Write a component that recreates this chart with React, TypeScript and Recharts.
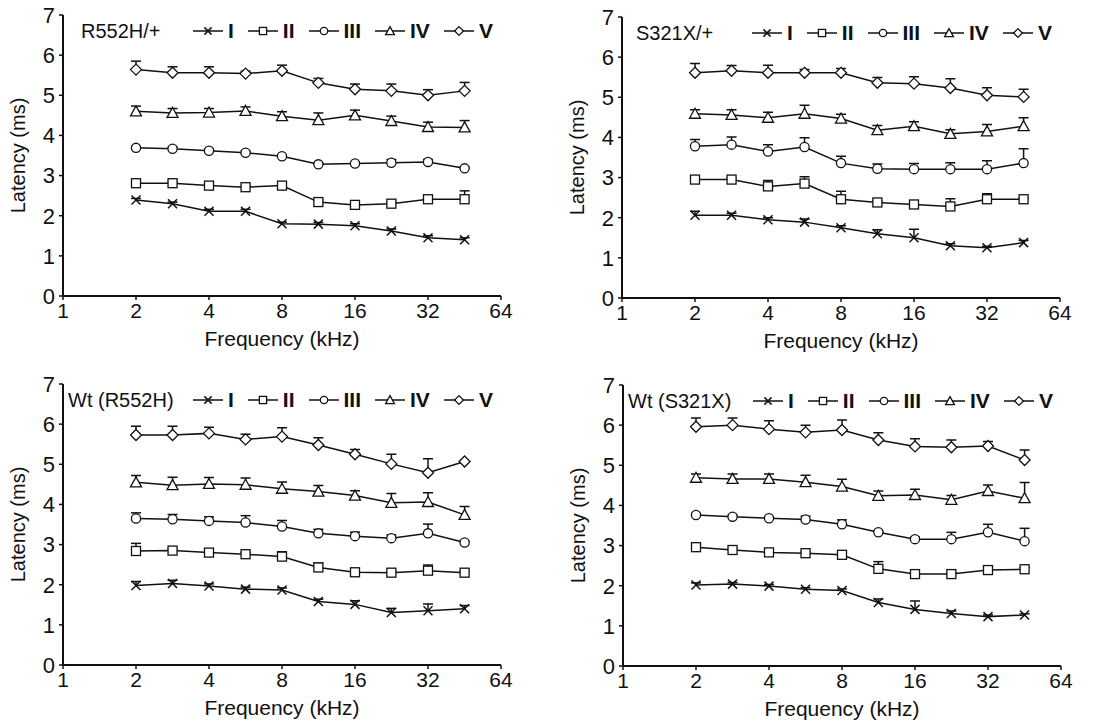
import React from "react";
import { LineChart, Line, XAxis, YAxis, ErrorBar, Legend } from "recharts";

const FONT = '"Liberation Sans", Arial, sans-serif';

// half-octave test frequencies (kHz)
const FREQS = [2, 2.83, 4, 5.66, 8, 11.3, 16, 22.6, 32, 45.3];
const X_TICKS = [1, 2, 4, 8, 16, 32, 64];
const Y_TICKS = [0, 1, 2, 3, 4, 5, 6, 7];
const WAVES = ["I", "II", "III", "IV", "V"];

// R552H/+
const R552H_I = [2.39, 2.3, 2.11, 2.11, 1.8, 1.79, 1.75, 1.62, 1.45, 1.4];
const R552H_II = [2.81, 2.81, 2.75, 2.71, 2.75, 2.34, 2.27, 2.3, 2.41, 2.41];
const R552H_III = [3.69, 3.67, 3.62, 3.57, 3.48, 3.28, 3.3, 3.32, 3.34, 3.18];
const R552H_IV = [4.6, 4.56, 4.57, 4.61, 4.48, 4.38, 4.5, 4.36, 4.21, 4.2];
const R552H_V = [5.64, 5.56, 5.56, 5.54, 5.61, 5.31, 5.15, 5.11, 5.0, 5.11];
const R552H_I_ERR = [0.04, 0.04, 0.05, 0.05, 0.04, 0.04, 0.05, 0.05, 0.05, 0.05];
const R552H_II_ERR = [0.04, 0.04, 0.04, 0.04, 0.04, 0.06, 0.04, 0.04, 0.04, 0.21];
const R552H_III_ERR = [0.04, 0.04, 0.04, 0.04, 0.04, 0.04, 0.04, 0.08, 0.06, 0.04];
const R552H_IV_ERR = [0.13, 0.11, 0.1, 0.1, 0.11, 0.18, 0.13, 0.12, 0.12, 0.17];
const R552H_V_ERR = [0.21, 0.15, 0.15, 0.06, 0.14, 0.11, 0.13, 0.17, 0.14, 0.21];

// S321X/+
const S321X_I = [2.06, 2.06, 1.95, 1.89, 1.75, 1.6, 1.5, 1.3, 1.25, 1.38];
const S321X_II = [2.95, 2.95, 2.78, 2.85, 2.46, 2.38, 2.33, 2.28, 2.46, 2.46];
const S321X_III = [3.78, 3.82, 3.65, 3.76, 3.36, 3.22, 3.21, 3.21, 3.21, 3.36];
const S321X_IV = [4.59, 4.56, 4.49, 4.59, 4.47, 4.18, 4.28, 4.09, 4.15, 4.28];
const S321X_V = [5.61, 5.66, 5.61, 5.61, 5.61, 5.36, 5.34, 5.23, 5.05, 5.01];
const S321X_I_ERR = [0.1, 0.05, 0.05, 0.08, 0.05, 0.1, 0.21, 0.05, 0.04, 0.05];
const S321X_II_ERR = [0.04, 0.04, 0.15, 0.17, 0.2, 0.04, 0.04, 0.19, 0.14, 0.04];
const S321X_III_ERR = [0.17, 0.19, 0.17, 0.23, 0.17, 0.12, 0.14, 0.16, 0.21, 0.36];
const S321X_IV_ERR = [0.1, 0.13, 0.14, 0.21, 0.11, 0.12, 0.11, 0.1, 0.17, 0.21];
const S321X_V_ERR = [0.23, 0.13, 0.19, 0.08, 0.11, 0.13, 0.17, 0.23, 0.19, 0.19];

// Wt (R552H)
const WT_R_I = [1.98, 2.03, 1.97, 1.89, 1.87, 1.58, 1.51, 1.31, 1.35, 1.4];
const WT_R_II = [2.84, 2.85, 2.8, 2.76, 2.7, 2.43, 2.31, 2.3, 2.35, 2.3];
const WT_R_III = [3.65, 3.63, 3.59, 3.55, 3.45, 3.28, 3.21, 3.16, 3.28, 3.05];
const WT_R_IV = [4.55, 4.48, 4.51, 4.49, 4.39, 4.32, 4.22, 4.04, 4.06, 3.74];
const WT_R_V = [5.73, 5.73, 5.77, 5.62, 5.69, 5.48, 5.25, 5.01, 4.79, 5.07];
const WT_R_I_ERR = [0.1, 0.08, 0.05, 0.05, 0.05, 0.06, 0.09, 0.1, 0.17, 0.08];
const WT_R_II_ERR = [0.19, 0.04, 0.04, 0.04, 0.12, 0.11, 0.04, 0.04, 0.14, 0.04];
const WT_R_III_ERR = [0.14, 0.12, 0.1, 0.17, 0.15, 0.1, 0.1, 0.08, 0.23, 0.03];
const WT_R_IV_ERR = [0.17, 0.2, 0.16, 0.17, 0.17, 0.15, 0.12, 0.23, 0.23, 0.21];
const WT_R_V_ERR = [0.22, 0.22, 0.15, 0.13, 0.22, 0.18, 0.12, 0.24, 0.35, 0.02];

// Wt (S321X)
const WT_S_I = [2.02, 2.04, 1.99, 1.91, 1.88, 1.58, 1.41, 1.31, 1.23, 1.27];
const WT_S_II = [2.96, 2.89, 2.83, 2.81, 2.77, 2.42, 2.29, 2.29, 2.39, 2.41];
const WT_S_III = [3.76, 3.72, 3.68, 3.65, 3.53, 3.33, 3.16, 3.16, 3.33, 3.11];
const WT_S_IV = [4.69, 4.66, 4.66, 4.58, 4.47, 4.24, 4.26, 4.14, 4.36, 4.18];
const WT_S_V = [5.96, 6.0, 5.9, 5.82, 5.88, 5.63, 5.47, 5.45, 5.48, 5.13];
const WT_S_I_ERR = [0.05, 0.04, 0.04, 0.04, 0.04, 0.09, 0.21, 0.06, 0.04, 0.03];
const WT_S_II_ERR = [0.04, 0.04, 0.04, 0.04, 0.04, 0.18, 0.04, 0.04, 0.04, 0.05];
const WT_S_III_ERR = [0.04, 0.04, 0.04, 0.08, 0.11, 0.04, 0.05, 0.17, 0.2, 0.32];
const WT_S_IV_ERR = [0.09, 0.12, 0.12, 0.17, 0.18, 0.12, 0.14, 0.11, 0.15, 0.39];
const WT_S_V_ERR = [0.22, 0.18, 0.21, 0.18, 0.25, 0.18, 0.19, 0.18, 0.11, 0.25];

type PanelDef = {
  label: string;
  labelX: number;
  left: number;
  top: number;
  series: number[][];
  errors: number[][];
};

const PANELS: PanelDef[] = [
  {
    label: "R552H/+", labelX: 81, left: 0, top: 0,
    series: [R552H_I, R552H_II, R552H_III, R552H_IV, R552H_V],
    errors: [R552H_I_ERR, R552H_II_ERR, R552H_III_ERR, R552H_IV_ERR, R552H_V_ERR],
  },
  {
    label: "S321X/+", labelX: 77, left: 559, top: 2,
    series: [S321X_I, S321X_II, S321X_III, S321X_IV, S321X_V],
    errors: [S321X_I_ERR, S321X_II_ERR, S321X_III_ERR, S321X_IV_ERR, S321X_V_ERR],
  },
  {
    label: "Wt (R552H)", labelX: 68, left: 0, top: 369,
    series: [WT_R_I, WT_R_II, WT_R_III, WT_R_IV, WT_R_V],
    errors: [WT_R_I_ERR, WT_R_II_ERR, WT_R_III_ERR, WT_R_IV_ERR, WT_R_V_ERR],
  },
  {
    label: "Wt (S321X)", labelX: 68, left: 560, top: 370,
    series: [WT_S_I, WT_S_II, WT_S_III, WT_S_IV, WT_S_V],
    errors: [WT_S_I_ERR, WT_S_II_ERR, WT_S_III_ERR, WT_S_IV_ERR, WT_S_V_ERR],
  },
];

const buildRows = (series: number[][], errors: number[][]) =>
  FREQS.map((f, i) => {
    const row: Record<string, any> = { f };
    WAVES.forEach((w, k) => {
      row[w] = series[k][i];
      row[`${w}top`] = series[k][i] + errors[k][i];
      row[`${w}err`] = [errors[k][i], 0];
    });
    return row;
  });

const Marker = ({ kind, cx, cy, s = 1 }: { kind: string; cx: number; cy: number; s?: number }) => {
  const p = { fill: "#fff", stroke: "#111", strokeWidth: 1.3 };
  const a = 4.5 * s;
  const b = 5.5 * s;
  if (kind === "I") {
    return (
      <g stroke="#111" strokeWidth={1.5}>
        <line x1={cx - a} y1={cy - a} x2={cx + a} y2={cy + a} />
        <line x1={cx - a} y1={cy + a} x2={cx + a} y2={cy - a} />
      </g>
    );
  }
  if (kind === "II") return <rect x={cx - a} y={cy - a} width={2 * a} height={2 * a} {...p} />;
  if (kind === "III") return <circle cx={cx} cy={cy} r={a + 0.1} {...p} />;
  if (kind === "IV")
    return <polygon points={`${cx},${cy - b} ${cx + b},${cy + a} ${cx - b},${cy + a}`} {...p} />;
  return <polygon points={`${cx},${cy - b} ${cx + b},${cy} ${cx},${cy + b} ${cx - b},${cy}`} {...p} />;
};

const renderCap = (props: any) => (
  <line
    key={`cap-${props.index}`}
    x1={props.cx - 5}
    x2={props.cx + 5}
    y1={props.cy}
    y2={props.cy}
    stroke="#111"
    strokeWidth={1.5}
  />
);

const PanelLegend = ({ label, labelX }: { label: string; labelX: number }) => (
  <div style={{ position: "relative", width: 540, height: 26, fontFamily: FONT, color: "#111" }}>
    <span style={{ position: "absolute", left: labelX, top: 0, fontSize: 20, lineHeight: "26px" }}>{label}</span>
    <div style={{ position: "absolute", left: 193, top: 0, height: 26, display: "flex", alignItems: "center" }}>
      {WAVES.map((w) => (
        <div key={w} style={{ display: "flex", alignItems: "center", marginRight: 14 }}>
          <svg width={30} height={14}>
            <line x1={0} x2={30} y1={7} y2={7} stroke="#111" strokeWidth={1.5} />
            <Marker kind={w} cx={15} cy={7} s={0.8} />
          </svg>
          <span style={{ fontWeight: 700, fontSize: 21, marginLeft: 5, lineHeight: "26px" }}>{w}</span>
        </div>
      ))}
    </div>
  </div>
);

const LatencyPanel = ({ panel }: { panel: PanelDef }) => {
  const rows = buildRows(panel.series, panel.errors);
  return (
    <div style={{ position: "absolute", left: panel.left, top: panel.top }}>
      <LineChart width={540} height={350} data={rows} margin={{ top: 15, right: 39, left: 13, bottom: 4 }}>
        <XAxis
          dataKey="f"
          type="number"
          scale="log"
          domain={[1, 64]}
          ticks={X_TICKS}
          allowDataOverflow
          height={50}
          tickSize={4}
          tickMargin={3}
          axisLine={{ stroke: "#111", strokeWidth: 2 }}
          tickLine={{ stroke: "#111", strokeWidth: 1.5 }}
          tick={{ fill: "#111", fontSize: 21, fontFamily: FONT }}
          label={{
            value: "Frequency (kHz)",
            position: "insideBottom",
            offset: 0,
            fill: "#111",
            fontSize: 21,
            fontFamily: FONT,
          }}
        />
        <YAxis
          type="number"
          domain={[0, 7]}
          ticks={Y_TICKS}
          width={50}
          tickSize={4}
          tickMargin={4}
          axisLine={{ stroke: "#111", strokeWidth: 2 }}
          tickLine={{ stroke: "#111", strokeWidth: 1.5 }}
          tick={{ fill: "#111", fontSize: 22, fontFamily: FONT }}
          label={{
            value: "Latency (ms)",
            angle: -90,
            position: "insideLeft",
            offset: 5,
            fill: "#111",
            fontSize: 20,
            fontFamily: FONT,
            style: { textAnchor: "middle" },
          }}
        />
        {/* upward error bars: stem from mean to top, cap drawn at top */}
        {WAVES.map((w) => (
          <Line
            key={`${w}-err`}
            dataKey={`${w}top`}
            stroke="none"
            dot={renderCap}
            legendType="none"
            isAnimationActive={false}
          >
            <ErrorBar dataKey={`${w}err`} width={0} stroke="#111" strokeWidth={1.5} direction="y" />
          </Line>
        ))}
        {WAVES.map((w) => (
          <Line
            key={w}
            dataKey={w}
            stroke="#111"
            strokeWidth={1.5}
            dot={(props: any) => <Marker key={`${w}-${props.index}`} kind={w} cx={props.cx} cy={props.cy} />}
            isAnimationActive={false}
          />
        ))}
        <Legend
          layout="horizontal"
          verticalAlign="middle"
          align="center"
          wrapperStyle={{ top: 18, left: 0, width: 540 }}
          content={() => <PanelLegend label={panel.label} labelX={panel.labelX} />}
        />
      </LineChart>
    </div>
  );
};

export default function App() {
  return (
    <div
      style={{
        position: "fixed",
        left: 0,
        top: 0,
        width: 1107,
        height: 726,
        background: "#fff",
        fontFamily: FONT,
      }}
    >
      {PANELS.map((p) => (
        <LatencyPanel key={p.label} panel={p} />
      ))}
    </div>
  );
}
